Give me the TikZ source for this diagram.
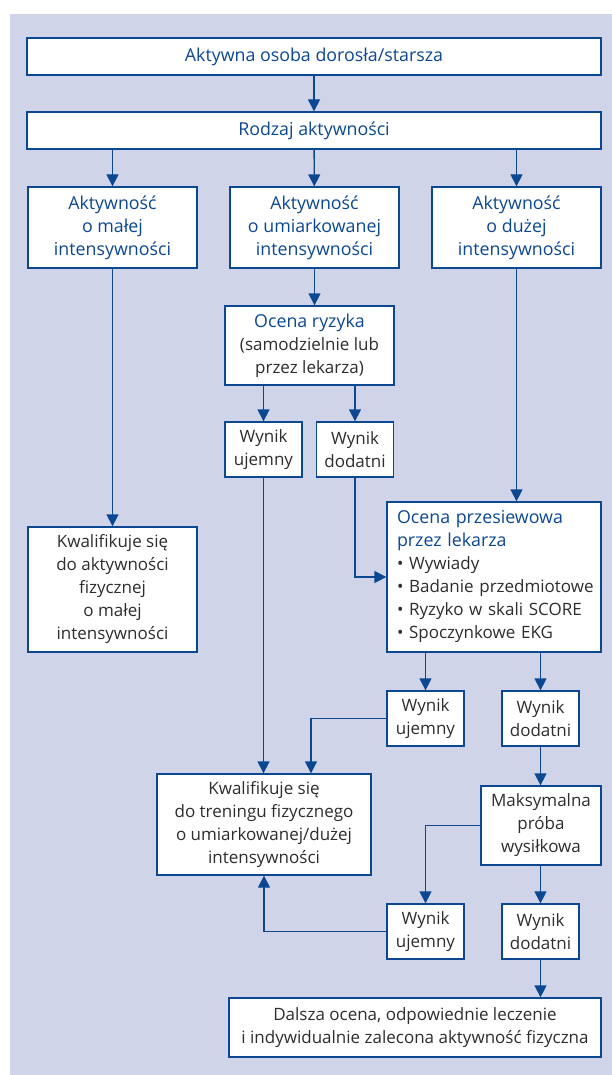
\documentclass[tikz,border=0pt]{standalone}
\usepackage{fontspec}
\setmainfont{Open Sans}
\usetikzlibrary{arrows.meta,calc}
\definecolor{bgblue}{RGB}{207,212,233}
\definecolor{lineblue}{RGB}{12,72,146}
\definecolor{txtgrey}{RGB}{45,45,45}
\newcommand{\bluetxt}[1]{{\color{lineblue}\fontsize{17.8}{23}\selectfont #1}}
\begin{document}
\begin{tikzpicture}[x=1pt,y=-1pt,
    box/.style={draw=lineblue, line width=1.3pt, fill=white, text=txtgrey,
        align=center, inner sep=0pt,
        font=\fontsize{17}{23}\selectfont},
    head/.style={box, text=lineblue, font=\fontsize{17.8}{23}\selectfont},
    res/.style={box, minimum width=77pt, minimum height=55pt},
    link/.style={draw=lineblue, line width=1.3pt,
        -{Triangle[length=12pt,width=12pt]}}]
    \useasboundingbox (0,0) rectangle (612,1075);
    \fill[bgblue] (10,14) rectangle (612,1075);

    % top of the chart
    \node[head, minimum width=574pt, minimum height=37pt] (adult) at (314,56.5) {Aktywna osoba dorosła/starsza};
    \node[head, minimum width=574pt, minimum height=37pt] (kind) at (314,130.5) {Rodzaj aktywności};

    % three kinds of activity
    \node[head, minimum width=169pt, minimum height=81pt] (low) at (112.5,227.5) {Aktywność\\o małej\\intensywności};
    \node[head, minimum width=169pt, minimum height=81pt] (mid) at (314.5,227.5) {Aktywność\\o umiarkowanej\\intensywności};
    \node[head, minimum width=169pt, minimum height=81pt] (high) at (516.5,227.5) {Aktywność\\o dużej\\intensywności};

    \node[box, minimum width=169pt, minimum height=79pt] (risk) at (309.5,345.5) {\bluetxt{Ocena ryzyka}\\(samodzielnie lub\\przez lekarza)};
    \node[res] (riskneg) at (263.5,449.5) {Wynik\\ujemny};
    \node[res] (riskpos) at (355,449.5) {Wynik\\dodatni};

    \node[box, minimum width=169pt, minimum height=125pt] (lowok) at (112.5,589.5) {Kwalifikuje się\\do aktywności\\fizycznej\\o małej\\intensywności};
    \node[box, minimum width=214pt, minimum height=150pt, align=left, text width=194pt] (screen) at (494,577)
        {\bluetxt{Ocena przesiewowa}\\\bluetxt{przez lekarza}\\• Wywiady\\\mbox{• Badanie przedmiotowe}\\• Ryzyko w skali SCORE\\• Spoczynkowe EKG};

    \node[res] (scrneg) at (425.5,718.5) {Wynik\\ujemny};
    \node[res] (scrpos) at (540.5,718.5) {Wynik\\dodatni};

    \node[box, minimum width=214pt, minimum height=101pt] (train) at (264,824.5) {Kwalifikuje się\\do treningu fizycznego\\o umiarkowanej/dużej\\intensywności};
    \node[box, minimum width=120pt, minimum height=79pt] (stress) at (541,825.5) {Maksymalna\\próba\\wysiłkowa};

    \node[res] (strneg) at (425.5,931.5) {Wynik\\ujemny};
    \node[res] (strpos) at (540.5,931.5) {Wynik\\dodatni};

    \node[box, minimum width=372pt, minimum height=59pt] (further) at (415,1027.5) {Dalsza ocena, odpowiednie leczenie\\i indywidualnie zalecona aktywność fizyczna};

    % connectors
    \draw[link] (adult) -- (kind);
    \draw[link] (kind.south -| low) -- (low);
    \draw[link] (kind) -- (mid);
    \draw[link] (kind.south -| high) -- (high);
    \draw[link] (mid.south) -- (mid.south |- risk.north);
    \draw[link] (risk.south -| riskneg) -- (riskneg);
    \draw[link] (risk.south -| riskpos) -- (riskpos);
    \draw[link] (low) -- (lowok);
    \draw[link] (high.south) -- (high.south |- screen.north);
    \draw[link] (riskpos.south) |- (screen.west);
    \draw[link] (riskneg.south) -- (riskneg.south |- train.north);
    \draw[link] (screen.south -| scrneg) -- (scrneg);
    \draw[link] (screen.south -| scrpos) -- (scrpos);
    \coordinate (trainin) at ($(train.north)+(47,0)$);
    \draw[link] (scrneg.west) -| (trainin);
    \draw[link] (scrpos) -- (scrpos |- stress.north);
    \draw[link] (stress.west) -| (strneg.north);
    \draw[link] (stress.south -| strpos) -- (strpos);
    \draw[link] (strneg.west) -| (train.south);
    \draw[link] (strpos.south) -- (strpos.south |- further.north);
\end{tikzpicture}
\end{document}
